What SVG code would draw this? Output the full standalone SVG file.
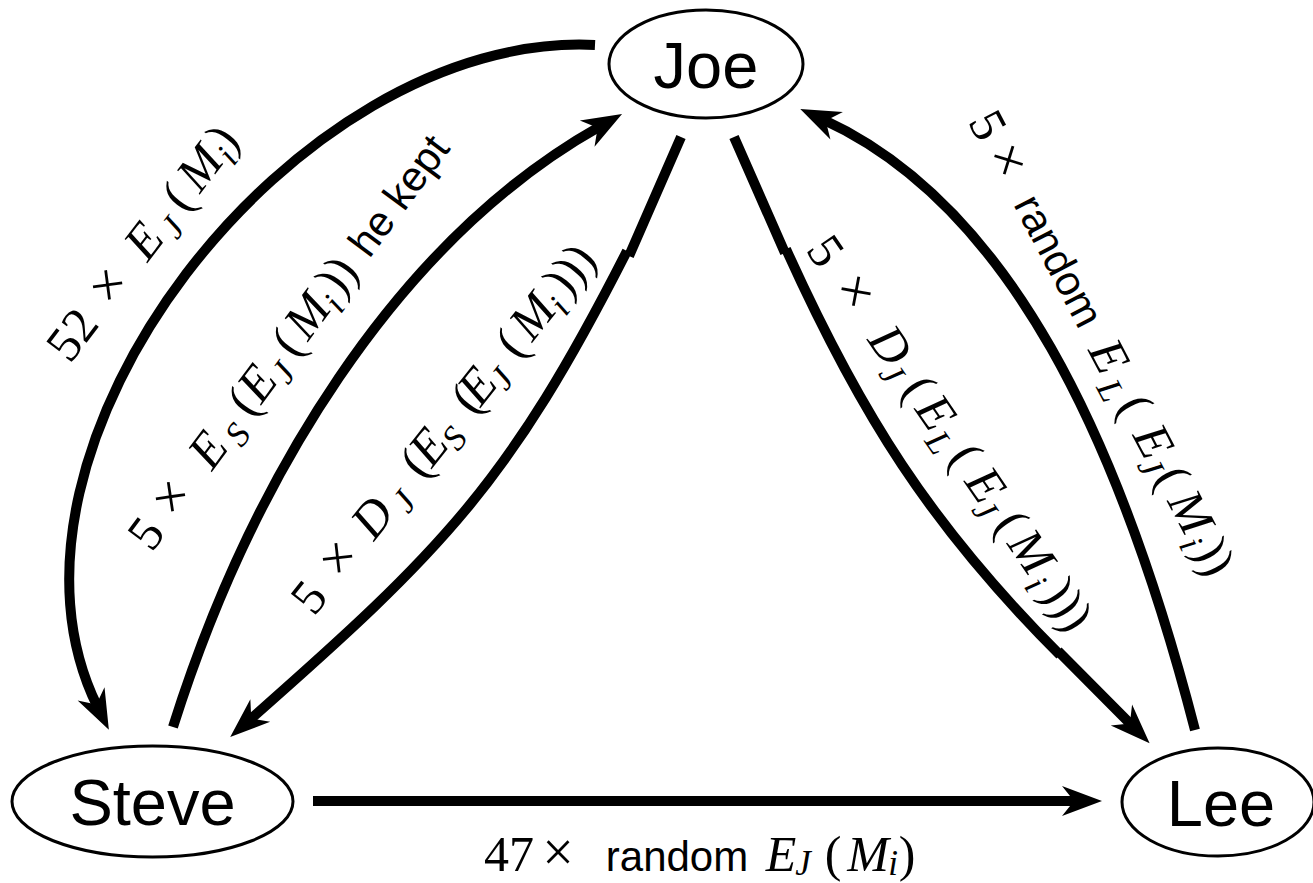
<svg xmlns="http://www.w3.org/2000/svg" width="1313" height="883" viewBox="0 0 1313 883">
<style>
.nodeshape { fill: #fff; stroke: #000; stroke-width: 3; }
.nodetext { font-family: "Liberation Sans", Arial, sans-serif; font-size: 65px; text-anchor: middle; fill: #000; }
.edge { fill: none; stroke: #000; stroke-width: 10; marker-end: url(#ah); }
.lb { font-family: "Liberation Serif", "Times New Roman", serif; font-size: 50px; text-anchor: middle; fill: #000; }
.i { font-style: italic; }
.s { font-style: italic; font-size: 35px; }
.x { font-size: 56px; }
.t { font-family: "Liberation Sans", Arial, sans-serif; font-size: 42px; }
</style>
<defs>
<marker id="ah" markerUnits="userSpaceOnUse" orient="auto" viewBox="-30 -30 60 60" markerWidth="60" markerHeight="60" refX="0" refY="0" overflow="visible">
<path d="M25,0 L-15,-15 L-3,0 L-15,15 Z" fill="#000"/>
</marker>
</defs>
<rect width="1313" height="883" fill="#fff"/>
<g id="connectors">
<path id="e-joe-steve-outer" class="edge" d="M595,45 C295,30 -30,450 97.75,707.25"/>
<path id="e-steve-joe" class="edge" d="M173,727 C251,480 396,241 600.25,126.25"/>
<path id="e-joe-steve-inner" class="edge" d="M681,137 L629,256 M627,251 C509,483 444,549 249,720.5"/>
<path id="e-joe-lee" class="edge" d="M734,137 L785,253 M786,249 C860,413 930,525 1060,655 M1058,651 L1132,725.6"/>
<path id="e-lee-joe" class="edge" d="M1195,730 C1120,440 1010,205 823,119.5"/>
<path id="e-steve-lee" class="edge" d="M313,801 L1077,801"/>
</g>
<g id="labels">
<text id="l1" class="lb" transform="rotate(-52.6)">
<tspan x="-222" y="277">52</tspan><tspan x="-161" y="277" class="x">×</tspan><tspan x="-104" y="277" class="i">E</tspan><tspan x="-76" y="287" class="s">J</tspan><tspan x="-49" y="277">(</tspan><tspan x="-12" y="277" class="i">M</tspan><tspan x="14" y="287" class="s">i</tspan><tspan x="26" y="277">)</tspan>
</text>
<text id="l2" class="lb" transform="rotate(-53.5)">
<tspan x="-342" y="451">5</tspan><tspan x="-298" y="451" class="x">×</tspan><tspan x="-238" y="451" class="i">E</tspan><tspan x="-208" y="461" class="s">S</tspan><tspan x="-179" y="451">(</tspan><tspan x="-155" y="451" class="i">E</tspan><tspan x="-131" y="461" class="s">J</tspan><tspan x="-105" y="451">(</tspan><tspan x="-71" y="451" class="i">M</tspan><tspan x="-45.5" y="461" class="s">i</tspan><tspan x="-21" y="451">))</tspan><tspan x="80" y="451" class="t">he kept</tspan>
</text>
<text id="l3" class="lb" transform="rotate(-51.5)">
<tspan x="-275" y="630">5</tspan><tspan x="-226.5" y="630" class="x">×</tspan><tspan x="-173" y="630" class="i">D</tspan><tspan x="-141" y="640" class="s">J</tspan><tspan x="-104.5" y="630">(</tspan><tspan x="-83" y="630" class="i">E</tspan><tspan x="-60" y="640" class="s">S</tspan><tspan x="-22.7" y="630">(</tspan><tspan x="-5" y="630" class="i">E</tspan><tspan x="16" y="640" class="s">J</tspan><tspan x="48.7" y="630">(</tspan><tspan x="84" y="630" class="i">M</tspan><tspan x="108.6" y="640" class="s">i</tspan><tspan x="143.7" y="630">)))</tspan>
</text>
<text id="l4" class="lb" transform="rotate(55.6)">
<tspan x="673.6" y="-523">5</tspan><tspan x="724" y="-523" class="x">×</tspan><tspan x="788" y="-523" class="i">D</tspan><tspan x="812" y="-513" class="s">J</tspan><tspan x="839" y="-523">(</tspan><tspan x="869" y="-523" class="i">E</tspan><tspan x="895.5" y="-513" class="s">L</tspan><tspan x="921.4" y="-523">(</tspan><tspan x="957" y="-523" class="i">E</tspan><tspan x="977" y="-513" class="s">J</tspan><tspan x="1002.6" y="-523">(</tspan><tspan x="1038" y="-523" class="i">M</tspan><tspan x="1067" y="-513" class="s">i</tspan><tspan x="1102.5" y="-523">)))</tspan>
</text>
<text id="l5" class="lb" transform="rotate(62.3)">
<tspan x="570" y="-800">5</tspan><tspan x="610.7" y="-800" class="x">×</tspan><tspan x="723" y="-802" class="t">random</tspan><tspan x="831" y="-800" class="i">E</tspan><tspan x="862" y="-790" class="s">L</tspan><tspan x="887" y="-800">(</tspan><tspan x="927" y="-800" class="i">E</tspan><tspan x="948" y="-790" class="s">J</tspan><tspan x="967.5" y="-800">(</tspan><tspan x="1007" y="-800" class="i">M</tspan><tspan x="1035" y="-790" class="s">i</tspan><tspan x="1058" y="-800">))</tspan>
</text>
<text id="l6" class="lb">
<tspan x="509" y="871">47</tspan><tspan x="558" y="871" class="x">×</tspan><tspan x="677" y="871" class="t">random</tspan><tspan x="781" y="871" class="i">E</tspan><tspan x="803" y="875" class="s">J</tspan><tspan x="833" y="871">(</tspan><tspan x="868" y="871" class="i">M</tspan><tspan x="893" y="875" class="s">i</tspan><tspan x="907" y="871">)</tspan>
</text>
</g>
<g id="node-joe">
<ellipse class="nodeshape" cx="706" cy="64" rx="97" ry="54"/>
<text class="nodetext" x="706" y="88">Joe</text>
</g>
<g id="node-steve">
<ellipse class="nodeshape" cx="152.5" cy="801.5" rx="140.5" ry="55.5"/>
<text class="nodetext" x="152.5" y="825">Steve</text>
</g>
<g id="node-lee">
<ellipse class="nodeshape" cx="1218" cy="802" rx="96" ry="54"/>
<text class="nodetext" x="1221" y="826">Lee</text>
</g>
</svg>
